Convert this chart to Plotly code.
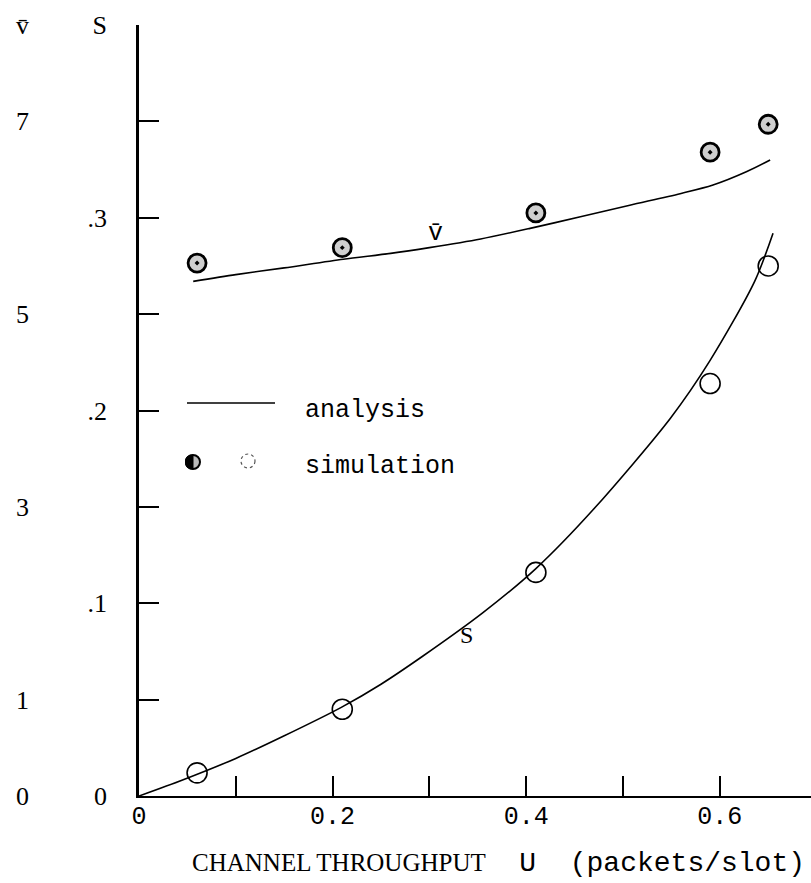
import plotly.graph_objects as go

# ---------------- data ----------------
# simulation points (channel throughput U)
u_sim = [0.06, 0.21, 0.41, 0.59, 0.65]
vbar_sim = [5.53, 5.69, 6.05, 6.68, 6.97]
s_sim = [0.012, 0.045, 0.116, 0.214, 0.275]

# analysis curves
u_vbar_an = [0.056, 0.10, 0.15, 0.211, 0.26, 0.30, 0.353, 0.404, 0.456, 0.507, 0.559, 0.593, 0.628, 0.652]
vbar_an = [5.34, 5.41, 5.48, 5.57, 5.63, 5.69, 5.78, 5.89, 6.01, 6.13, 6.25, 6.34, 6.48, 6.60]

u_s_an = [0.0, 0.045, 0.10, 0.149, 0.209, 0.25, 0.293, 0.355, 0.41, 0.47, 0.549, 0.59, 0.636, 0.655]
s_an = [0.0, 0.0083, 0.0195, 0.031, 0.046, 0.058, 0.0725, 0.095, 0.118, 0.149, 0.196, 0.226, 0.267, 0.292]

# axes ticks
x_ticks = [0, 0.1, 0.2, 0.3, 0.4, 0.5, 0.6]
x_ticktext = ["0", "", "0.2", "", "0.4", "", "0.6"]
s_ticks = [0, 0.05, 0.1, 0.15, 0.2, 0.25, 0.3, 0.35, 0.4]
s_ticktext = ["0", "", ".1", "", ".2", "", ".3", "", "S"]
v_ticks = [0, 1, 3, 5, 7, 8]
v_ticktext = ["0", "1", "3", "5", "7", "v\u0304"]

# ---------------- figure ----------------
W, H = 811, 883
L, R, T, B = 139, 0, 25, 87
PW, PH = W - L - R, H - T - B

def px(x):
    return (x - L) / PW

def py(y):
    return (H - B - y) / PH

SERIF = "Liberation Serif"
MONO = "Liberation Mono"

fig = go.Figure()

fig.add_trace(go.Scatter(x=u_vbar_an, y=vbar_an, mode="lines", yaxis="y2",
                         line=dict(color="black", width=1.6, shape="spline", smoothing=0.8),
                         showlegend=False))
fig.add_trace(go.Scatter(x=u_s_an, y=s_an, mode="lines",
                         line=dict(color="black", width=1.6, shape="spline", smoothing=0.8),
                         showlegend=False))
fig.add_trace(go.Scatter(x=u_sim, y=vbar_sim, mode="markers", yaxis="y2",
                         marker=dict(symbol="circle-dot", size=18, color="#cfcfcf",
                                     line=dict(color="black", width=2.8)),
                         showlegend=False))
fig.add_trace(go.Scatter(x=u_sim, y=s_sim, mode="markers",
                         marker=dict(symbol="circle-open", size=20, color="black",
                                     line=dict(width=1.6)),
                         showlegend=False))

xmax = PW / 968.0

fig.update_layout(
    width=W, height=H,
    margin=dict(l=L, r=R, t=T, b=B, pad=0),
    paper_bgcolor="white", plot_bgcolor="white",
    showlegend=False,
    xaxis=dict(range=[0, xmax], tickvals=x_ticks, ticktext=x_ticktext,
               ticks="inside", ticklen=20, tickwidth=1.6, tickcolor="black",
               showline=True, linecolor="black", linewidth=2.2,
               showgrid=False, zeroline=False, ticklabelstandoff=-4,
               tickfont=dict(family=MONO, size=25, color="black")),
    yaxis=dict(range=[0, 0.4], tickvals=s_ticks, ticktext=s_ticktext,
               ticks="inside", ticklen=20, tickwidth=1.6, tickcolor="black",
               showline=True, linecolor="black", linewidth=2.6,
               showgrid=False, zeroline=False, ticklabelstandoff=24,
               tickfont=dict(family=SERIF, size=26, color="black")),
    yaxis2=dict(range=[0, 8], overlaying="y", side="left", anchor="x",
                tickvals=v_ticks, ticktext=v_ticktext, ticks="",
                showline=False, showgrid=False, zeroline=False,
                ticklabelstandoff=109,
                tickfont=dict(family=SERIF, size=26, color="black")),
)

# legend drawn by hand, as in the original
fig.add_shape(type="line", xref="paper", yref="paper",
              x0=px(187), x1=px(275), y0=py(403), y1=py(403),
              line=dict(color="black", width=1.4))
fig.add_shape(type="circle", xref="paper", yref="paper",
              x0=px(186), x1=px(200), y0=py(469), y1=py(455),
              fillcolor="#bbbbbb", line=dict(color="black", width=2))
fig.add_shape(type="path", xref="paper", yref="paper",
              path=(f"M {px(193)} {py(455)} "
                    f"Q {px(185)} {py(455)} {px(185.5)} {py(462)} "
                    f"Q {px(185)} {py(469)} {px(193)} {py(469)} Z"),
              fillcolor="black", line=dict(color="black", width=1))
fig.add_shape(type="circle", xref="paper", yref="paper",
              x0=px(241), x1=px(255), y0=py(468), y1=py(454),
              fillcolor="white", line=dict(color="#555", width=1.2, dash="dot"))
fig.add_annotation(text="analysis", xref="paper", yref="paper",
                   x=px(303), y=py(410), xanchor="left", yanchor="middle",
                   showarrow=False, font=dict(family=MONO, size=25, color="black"))
fig.add_annotation(text="simulation", xref="paper", yref="paper",
                   x=px(303), y=py(467), xanchor="left", yanchor="middle",
                   showarrow=False, font=dict(family=MONO, size=25, color="black"))

# curve labels
fig.add_annotation(text="v\u0304", x=0.306, y=0.292, showarrow=False,
                   font=dict(family=MONO, size=25, color="black"))
fig.add_annotation(text="S", x=0.338, y=0.0835, showarrow=False,
                   font=dict(family=SERIF, size=24, color="black"))

# axis title
fig.add_annotation(
    text=("<span style='font-family:Liberation Serif;font-size:25px'>CHANNEL THROUGHPUT</span>"
          "<span style='font-family:Liberation Mono;font-size:28px'>  U  (packets/slot)</span>"),
    xref="paper", yref="paper", x=px(190), y=py(864),
    xanchor="left", yanchor="middle", showarrow=False,
    font=dict(family=MONO, size=28, color="black"))

fig.write_html("out.html", config={"displayModeBar": False},
               post_script="document.body.style.margin='0';")
